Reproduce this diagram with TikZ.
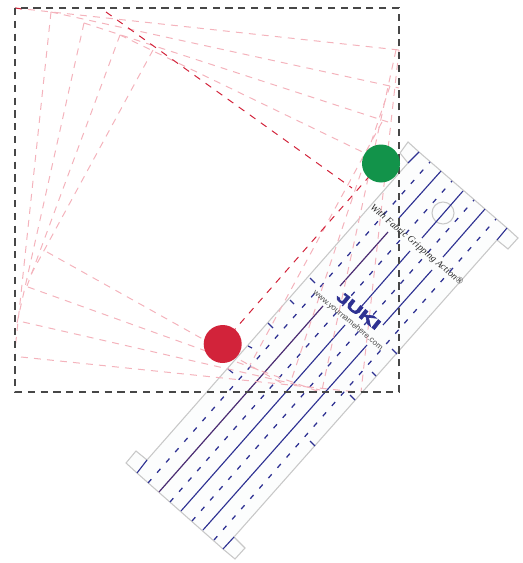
\documentclass[tikz,border=0pt]{standalone}
\usepackage{fontspec}
\setmainfont{Liberation Sans}
\newfontfamily\slogfont{Liberation Serif}
\newfontfamily\brandfont{Liberation Sans Bold}[FakeBold=4.5,FakeStretch=1.55]
\definecolor{pinkl}{HTML}{F4B3BC}
\definecolor{redl}{HTML}{D2233A}
\definecolor{greenc}{HTML}{12934A}
\definecolor{blue1}{HTML}{2E3192}
\definecolor{purp1}{HTML}{4A2C72}
\definecolor{edgeg}{HTML}{C8C8C8}
\definecolor{fillr}{HTML}{FCFDFD}
\tikzset{
  pinkdash/.style={draw=pinkl,line width=0.75pt,dash pattern=on 5.2pt off 4.6pt},
  reddash/.style={draw=redl,line width=0.75pt,dash pattern=on 5.2pt off 5pt},
  frameline/.style={draw=black!72,line width=0.82pt,dash pattern=on 5.4pt off 4.2pt},
  solidblue/.style={draw=blue1,line width=0.85pt},
  solidpurp/.style={draw=purp1,line width=0.9pt},
  dashblue/.style={draw=blue1,line width=0.95pt,dash pattern=on 3.8pt off 6.5pt},
  tick/.style={draw=blue1,line width=0.85pt},
  outline/.style={draw=edgeg,line width=0.8pt,fill=fillr},
  dot/.style={circle,minimum size=28.5pt,inner sep=0pt,draw=none}
}
\begin{document}
\begin{tikzpicture}[x=0.75pt,y=-0.75pt]
\useasboundingbox (0,0) rectangle (523,563);
% ruler
\draw[outline] (137,473)--(126,463)--(136,451)--(147,460)--(408,163)--(400,153)--(408,142)--(419,152)--(507,228)--(518,238)--(508,249)--(497,240)--(234,537)--(245,548)--(235,559)--(223,549)--cycle;
\draw[draw=edgeg,line width=0.8pt] (443,213) circle (8.25pt);
% tab lines
\draw[solidblue] (137,473)--(147,460);
\draw[solidblue] (408,163)--(419,152);
\draw[solidblue] (497,240)--(507,228);
\draw[solidblue] (223,549)--(234,537);
% solid lines
\draw[solidpurp] (159,492)--(323,306);
\draw[solidpurp] (340,286)--(388,232);
\draw[solidblue] (399,218)--(441,171);
\draw[solidblue] (181,511)--(345,325);
\draw[solidblue] (361,307)--(410,251);
\draw[solidblue] (422,238)--(463,191);
\draw[solidblue] (203,530)--(367,345);
\draw[solidblue] (383,325)--(432,270);
\draw[solidblue] (443,257)--(485,209);
% dashed lines
\draw[dashblue] (148,483)--(430,162);
\draw[dashblue] (170,502)--(452,181);
\draw[dashblue] (192,521)--(474,200);
\draw[dashblue] (214,540)--(496,219);
% ticks
\draw[tick] (310,278)--(315,283);
\draw[tick] (268,323)--(273,328);
\draw[tick] (228,369)--(233,373);
\draw[tick] (350,395)--(355,400);
\draw[tick] (392,349)--(397,354);
\draw[tick] (310,441)--(315,446);
\draw[tick] (248,346)--(252,348);
\draw[tick] (290,300)--(294,304);
\draw[tick] (372,372)--(376,376);
% pink spiral
\draw[pinkdash] (15,8)--(399,50);
\draw[pinkdash] (51,12)--(399,88);
\draw[pinkdash] (84,23)--(388,122);
\draw[pinkdash] (120,35)--(375,158);
\draw[pinkdash] (399,50)--(361,392);
\draw[pinkdash] (396,50)--(322,390);
\draw[pinkdash] (390,86)--(292,378);
\draw[pinkdash] (382,122)--(250,365);
\draw[pinkdash] (21,357)--(357,392);
\draw[pinkdash] (23,322)--(320,390);
\draw[pinkdash] (28,287)--(320,392);
\draw[pinkdash] (47,252)--(285,385);
\draw[pinkdash] (51,12)--(15,350);
\draw[pinkdash] (84,23)--(17,323);
\draw[pinkdash] (120,35)--(27,286);
\draw[pinkdash] (153,50)--(28,280);
% red lines
\draw[reddash] (106,12)--(352,188);
\draw[reddash] (222,344)--(381,163);
\draw[draw=redl,line width=0.75pt] (15,8)--(22,9);
% ruler texts
\node[rotate=-40.4,inner sep=0pt,font=\slogfont\fontsize{7.2}{8}\selectfont\itshape,text=black!85] (slogan) at (416.5,245) {With Fabric Gripping Action®};
\node[rotate=-38.5,inner sep=0pt,font=\brandfont\fontsize{11}{12}\selectfont,text=blue1] (brand) at (358.5,310.5) {JUKI};
\node[rotate=-40,inner sep=0pt,font=\fontsize{6}{7}\selectfont,text=black!70] (site) at (348,320.5) {www.yournamehere.com};
% frame
\draw[frameline] (15,8) rectangle (399,392);
% dots
\node[dot,fill=greenc] (greendot) at (381,163.5) {};
\node[dot,fill=redl] (reddot) at (222.7,344) {};
\end{tikzpicture}
\end{document}
